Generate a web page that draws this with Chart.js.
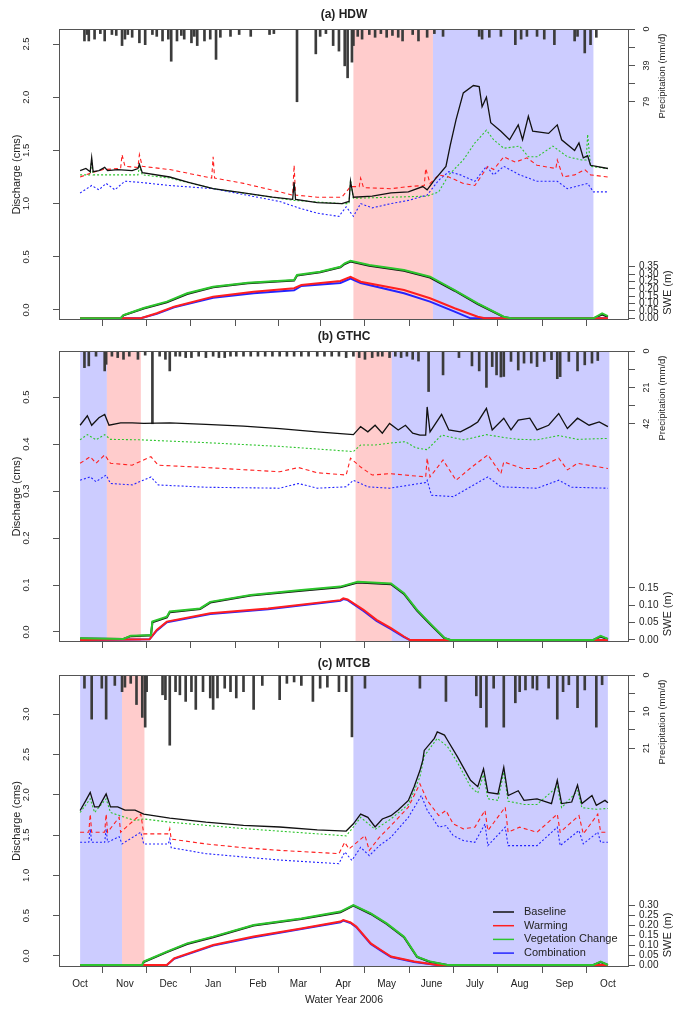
<!DOCTYPE html>
<html>
<head>
<meta charset="utf-8">
<script src="https://cdn.jsdelivr.net/npm/chart.js@4.4.1/dist/chart.umd.min.js"></script>
<style>
body { margin: 0; background: #fff; }
#page { position: relative; width: 676px; height: 1010px; }
canvas { position: absolute; left: 0; }
</style>
</head>
<body>
<div id="page">
<canvas id="hdw" width="676" height="330" style="top:0px"></canvas>
<canvas id="gthc" width="676" height="320" style="top:330px"></canvas>
<canvas id="mtcb" width="676" height="360" style="top:650px"></canvas>
</div>
<script>
// days since 1 Oct 2005
var monthDays = [0, 31, 61, 92, 123, 151, 182, 212, 243, 273, 304, 335, 365];
var monthLabels = ['Oct', 'Nov', 'Dec', 'Jan', 'Feb', 'Mar', 'Apr', 'May', 'June', 'July', 'Aug', 'Sep', 'Oct'];
var seriesNames = ['Baseline', 'Warming', 'Vegetation Change', 'Combination'];

// ---- (a) HDW ----
var hdwBaseline = [[0,1.31],[4,1.33],[7,1.30],[8,1.43],[9,1.30],[13,1.31],[17,1.34],[19,1.31],[26,1.32],[36,1.31],[40,1.33],[41,1.37],[43,1.29],[62,1.25],[75,1.20],[92,1.14],[113,1.10],[133,1.06],[147,1.04],[148,1.20],[149,1.04],[164,1.01],[181,1.00],[186,1.02],[187,1.21],[189,1.06],[202,1.07],[215,1.10],[227,1.11],[237,1.16],[240,1.13],[245,1.22],[253,1.35],[256,1.55],[260,1.79],[265,2.04],[272,2.11],[276,2.10],[278,1.91],[281,2.00],[284,1.76],[291,1.68],[297,1.60],[303,1.74],[306,1.60],[310,1.82],[313,1.68],[324,1.66],[330,1.74],[333,1.60],[342,1.50],[345,1.57],[348,1.43],[351,1.45],[353,1.36],[365,1.33]];
var hdwWarming = [[0,1.25],[8,1.29],[16,1.32],[28,1.33],[29,1.46],[31,1.35],[40,1.34],[41,1.46],[43,1.35],[62,1.32],[91,1.24],[92,1.44],[93,1.24],[113,1.19],[138,1.11],[147,1.08],[148,1.36],[149,1.08],[164,1.06],[181,1.06],[187,1.16],[193,1.16],[194,1.24],[196,1.15],[215,1.14],[227,1.16],[238,1.17],[239,1.33],[242,1.19],[248,1.27],[255,1.25],[265,1.19],[273,1.17],[282,1.35],[286,1.32],[293,1.44],[301,1.39],[309,1.43],[316,1.36],[329,1.33],[330,1.41],[334,1.25],[342,1.27],[349,1.32],[353,1.27],[365,1.25]];
var hdwVegetation = [[0,1.27],[7,1.27],[8,1.41],[9,1.27],[16,1.27],[40,1.27],[41,1.35],[43,1.27],[62,1.24],[92,1.14],[148,1.03],[181,1.00],[186,1.00],[187,1.22],[189,1.05],[215,1.06],[240,1.07],[248,1.11],[255,1.27],[265,1.41],[273,1.57],[281,1.69],[286,1.60],[293,1.52],[304,1.54],[310,1.44],[316,1.44],[327,1.54],[337,1.44],[347,1.41],[350,1.41],[351,1.65],[353,1.35],[365,1.33]];
var hdwCombination = [[0,1.10],[8,1.17],[13,1.13],[18,1.19],[24,1.13],[31,1.21],[41,1.20],[62,1.17],[92,1.14],[138,1.02],[151,0.96],[164,0.91],[179,0.88],[184,0.97],[189,0.88],[194,1.00],[202,0.96],[215,1.00],[227,1.03],[240,1.08],[248,1.22],[255,1.30],[263,1.27],[273,1.21],[281,1.35],[286,1.27],[293,1.35],[304,1.27],[316,1.21],[330,1.21],[337,1.14],[351,1.19],[355,1.11],[365,1.11]];
var hdwSweBaseline = [[0,0],[28,0],[30,0.02],[44,0.066],[60,0.108],[74,0.165],[92,0.21],[116,0.238],[148,0.256],[150,0.29],[166,0.312],[180,0.346],[183,0.368],[187,0.385],[200,0.357],[224,0.323],[242,0.276],[259,0.187],[275,0.097],[293,0.008],[298,0],[355,0],[361,0.025],[365,0.01]];
var hdwSweWarming = [[0,0],[42,0],[53,0.034],[65,0.079],[92,0.147],[120,0.18],[148,0.204],[153,0.226],[180,0.253],[187,0.282],[194,0.248],[224,0.192],[242,0.136],[259,0.068],[275,0.011],[280,0],[365,0]];
var hdwSweVegetation = [[0,0],[28,0],[30,0.022],[44,0.07],[60,0.113],[74,0.17],[92,0.214],[116,0.242],[148,0.26],[150,0.294],[166,0.316],[180,0.35],[183,0.373],[187,0.39],[200,0.362],[224,0.328],[242,0.282],[259,0.192],[275,0.102],[293,0.011],[298,0],[355,0],[361,0.034],[365,0.015]];
var hdwSweCombination = [[0,0],[42,0],[53,0.03],[65,0.075],[92,0.14],[120,0.17],[148,0.19],[153,0.22],[180,0.24],[187,0.27],[194,0.24],[224,0.17],[242,0.113],[259,0.045],[270,0],[365,0]];
var hdwRainDays = [3,5,6,10,14,17,22,25,29,31,33,36,41,45,50,53,57,61,63,67,70,72,77,79,81,86,90,94,97,104,110,118,131,134,150,163,166,170,175,179,183,185,188,189,192,195,200,204,208,212,216,220,223,230,234,240,245,251,276,278,283,291,301,305,309,316,321,328,342,344,349,353,357];
var hdwRainMm = [13,6,13,11,5,13,6,7,18,11,6,9,15,17,6,8,13,11,35,13,7,11,15,8,18,13,11,33,9,8,6,8,6,5,79,27,8,5,18,24,40,53,36,18,8,11,6,9,5,9,7,9,13,6,13,9,5,8,8,11,9,8,17,11,8,8,11,17,13,8,26,17,9];
var hdwTicks = [0, 0.5, 1, 1.5, 2, 2.5];
var hdwRainTicks = [0, 19.75, 39.5, 59.25, 79];
var hdwRainLabels = ['0', '', '39', '', '79'];
var hdwSweTicks = [0, 0.05, 0.10, 0.15, 0.20, 0.25, 0.30, 0.35];
var hdwPeriods = [[189, 244, 'Warming'], [244, 355, 'Combination']];

// ---- (b) GTHC ----
var gthcBaseline = [[0,0.44],[5,0.46],[8,0.44],[13,0.456],[17,0.463],[20,0.44],[28,0.445],[36,0.445],[44,0.444],[62,0.445],[87,0.442],[113,0.438],[138,0.433],[164,0.426],[189,0.42],[194,0.437],[199,0.426],[204,0.44],[209,0.423],[214,0.444],[220,0.43],[225,0.44],[230,0.423],[235,0.419],[239,0.419],[240,0.479],[242,0.426],[250,0.463],[255,0.43],[263,0.426],[270,0.437],[275,0.447],[281,0.476],[285,0.43],[293,0.455],[298,0.43],[303,0.451],[311,0.455],[316,0.43],[324,0.44],[331,0.465],[337,0.433],[344,0.455],[352,0.44],[359,0.447],[365,0.437]];
var gthcWarming = [[0,0.359],[7,0.373],[11,0.359],[17,0.377],[21,0.359],[36,0.355],[49,0.373],[54,0.355],[87,0.35],[138,0.341],[151,0.35],[164,0.339],[184,0.334],[187,0.37],[194,0.351],[202,0.334],[214,0.337],[239,0.33],[240,0.37],[242,0.33],[251,0.366],[260,0.323],[270,0.349],[282,0.377],[291,0.337],[293,0.362],[306,0.348],[316,0.348],[331,0.37],[337,0.345],[344,0.359],[365,0.348]];
var gthcVegetation = [[0,0.409],[5,0.42],[11,0.409],[17,0.42],[21,0.41],[41,0.409],[87,0.403],[138,0.395],[189,0.384],[194,0.398],[204,0.398],[214,0.402],[225,0.405],[232,0.392],[240,0.388],[250,0.419],[265,0.409],[270,0.412],[281,0.42],[293,0.414],[303,0.41],[316,0.409],[331,0.418],[344,0.41],[365,0.412]];
var gthcCombination = [[0,0.323],[7,0.33],[11,0.32],[18,0.334],[21,0.316],[36,0.313],[49,0.33],[54,0.313],[87,0.308],[138,0.306],[151,0.316],[164,0.306],[184,0.309],[189,0.323],[199,0.309],[214,0.306],[239,0.318],[240,0.323],[243,0.291],[258,0.288],[270,0.309],[282,0.33],[291,0.309],[316,0.306],[331,0.323],[340,0.308],[365,0.306]];
var gthcSweBaseline = [[0,0.004],[30,0.003],[35,0.011],[47,0.013],[49,0.013],[50,0.051],[60,0.065],[62,0.08],[83,0.089],[90,0.108],[118,0.128],[153,0.142],[180,0.152],[192,0.166],[215,0.161],[224,0.133],[233,0.085],[242,0.046],[252,0.005],[256,0],[355,0],[360,0.01],[365,0.002]];
var gthcSweWarming = [[0,0],[48,0.002],[53,0.029],[60,0.053],[90,0.077],[130,0.091],[180,0.115],[182,0.12],[185,0.117],[196,0.087],[205,0.058],[215,0.034],[224,0.01],[228,0],[365,0]];
var gthcSweVegetation = [[0,0.005],[30,0.003],[35,0.012],[47,0.014],[49,0.014],[50,0.053],[60,0.067],[62,0.082],[83,0.091],[90,0.11],[118,0.13],[153,0.144],[180,0.154],[192,0.168],[215,0.163],[224,0.135],[233,0.087],[242,0.048],[252,0.006],[256,0],[355,0],[360,0.012],[365,0.003]];
var gthcSweCombination = [[0,0],[48,0.002],[53,0.027],[60,0.051],[90,0.075],[130,0.089],[180,0.113],[182,0.118],[185,0.115],[196,0.084],[205,0.055],[215,0.031],[224,0.008],[228,0],[365,0]];
var gthcRainDays = [3,6,11,17,18,22,26,30,34,40,45,50,55,59,62,66,69,73,77,82,87,92,96,100,104,108,113,118,123,128,133,138,143,148,153,158,164,169,174,179,184,189,193,197,202,206,209,214,218,222,226,230,234,241,251,262,271,276,281,285,288,291,293,298,303,307,312,316,321,326,330,332,338,344,349,354,358];
var gthcRainMm = [9.6,8.6,3,11.5,7.7,3,3.8,4.8,3,4.8,2.4,42,3,4.8,11.5,3,3,3.8,3.8,3,3.8,3,3.8,3.8,3,3,3,3,3,3,3,3,3,3,3,3,3,3,3,3,3.8,3,3.8,4.8,3.8,3,3,3.8,3,3.8,3,4.8,5.8,23.4,13.8,3.8,8.6,11.5,21,9,13.8,15,14.7,6,11,7,7,9,6,5,16,14.8,6,11.5,8,7,5.5];
var gthcTicks = [0, 0.1, 0.2, 0.3, 0.4, 0.5];
var gthcRainTicks = [0, 10.5, 21, 31.5, 42];
var gthcRainLabels = ['0', '', '21', '', '42'];
var gthcSweTicks = [0, 0.05, 0.10, 0.15];
var gthcPeriods = [[0, 18.5, 'Combination'], [18.5, 42, 'Warming'], [190.5, 215.5, 'Warming'], [215.5, 366, 'Combination']];

// ---- (c) MTCB ----
var mtcbBaseline = [[0,1.805],[4,1.93],[7,2.03],[10,1.85],[13,1.85],[18,2.01],[21,1.85],[26,1.85],[31,1.81],[38,1.81],[44,1.76],[62,1.71],[87,1.66],[113,1.62],[138,1.60],[164,1.565],[184,1.55],[189,1.64],[194,1.76],[199,1.72],[204,1.60],[209,1.70],[215,1.74],[220,1.81],[227,1.93],[231,2.10],[235,2.30],[237,2.43],[238,2.55],[245,2.70],[247,2.78],[252,2.74],[254,2.68],[261,2.47],[270,2.18],[275,2.10],[279,2.32],[282,2.03],[289,2.01],[293,2.34],[296,1.99],[303,2.05],[307,1.93],[316,1.95],[326,1.89],[330,2.18],[333,1.89],[340,1.91],[344,2.12],[347,1.89],[354,1.99],[357,1.87],[363,1.93],[365,1.90]];
var mtcbWarming = [[0,1.535],[6,1.535],[7,1.76],[8,1.535],[17,1.535],[18,1.76],[19,1.535],[27,1.72],[28,1.535],[42,1.76],[44,1.515],[61,1.515],[62,1.58],[63,1.45],[87,1.39],[113,1.343],[138,1.31],[179,1.27],[183,1.41],[186,1.327],[197,1.494],[200,1.31],[207,1.473],[215,1.618],[227,1.846],[235,2.137],[240,1.93],[248,1.743],[253,1.805],[258,1.639],[265,1.577],[273,1.598],[280,1.805],[282,1.556],[294,1.846],[296,1.535],[304,1.598],[316,1.535],[330,1.76],[332,1.535],[345,1.743],[348,1.515],[358,1.76],[360,1.535],[365,1.535]];
var mtcbVegetation = [[0,1.78],[7,1.95],[10,1.78],[18,1.95],[21,1.78],[31,1.72],[38,1.68],[44,1.70],[62,1.66],[113,1.58],[184,1.49],[189,1.60],[194,1.72],[204,1.57],[215,1.70],[227,1.88],[235,2.22],[238,2.48],[247,2.70],[254,2.60],[261,2.40],[270,2.10],[275,2.02],[279,2.25],[282,1.95],[289,1.93],[293,2.28],[296,1.92],[307,1.88],[316,1.88],[330,2.10],[333,1.84],[344,2.05],[347,1.84],[357,1.82],[365,1.83]];
var mtcbCombination = [[0,1.41],[6,1.41],[7,1.577],[8,1.41],[17,1.41],[18,1.577],[19,1.41],[27,1.48],[29,1.39],[42,1.535],[44,1.39],[61,1.39],[62,1.452],[63,1.343],[87,1.27],[113,1.228],[138,1.19],[179,1.145],[183,1.29],[188,1.186],[194,1.348],[200,1.245],[207,1.369],[215,1.473],[227,1.72],[236,1.99],[240,1.81],[248,1.598],[253,1.618],[258,1.494],[265,1.432],[273,1.41],[280,1.639],[282,1.369],[294,1.598],[296,1.369],[316,1.369],[330,1.598],[332,1.369],[345,1.556],[348,1.39],[358,1.535],[360,1.41],[365,1.41]];
var mtcbSweBaseline = [[0,0],[43,0],[44,0.015],[60,0.064],[74,0.105],[92,0.139],[120,0.197],[153,0.23],[180,0.264],[189,0.297],[201,0.255],[212,0.205],[224,0.139],[233,0.04],[242,0.015],[254,0],[355,0],[360,0.015],[365,0]];
var mtcbSweWarming = [[0,0],[60,0],[65,0.033],[92,0.1],[120,0.142],[153,0.183],[180,0.217],[182,0.225],[187,0.213],[191,0.192],[201,0.108],[208,0.075],[215,0.042],[231,0.017],[247,0],[365,0]];
var mtcbSweVegetation = [[0,0],[43,0],[44,0.017],[60,0.067],[74,0.108],[92,0.142],[120,0.2],[153,0.233],[180,0.267],[189,0.30],[201,0.258],[212,0.208],[224,0.142],[233,0.042],[242,0.017],[254,0],[355,0],[360,0.017],[365,0]];
var mtcbSweCombination = [[0,0],[60,0],[65,0.031],[92,0.097],[120,0.139],[153,0.18],[180,0.214],[182,0.222],[187,0.21],[191,0.189],[201,0.105],[208,0.072],[215,0.04],[231,0.015],[247,0],[365,0]];
var mtcbRainDays = [3,8,15,18,24,29,31,35,39,43,45,46,57,59,62,66,69,73,77,80,85,90,92,95,100,104,108,113,120,126,138,143,148,153,161,166,171,179,184,188,197,235,253,274,277,281,286,293,301,304,308,313,316,324,330,334,338,344,349,357,361];
var mtcbRainMm = [3.8,12.7,3.8,12.7,3,4.8,3.5,2.4,8.5,12.2,15,4.8,5.7,7.1,20.2,4.8,5.7,7.6,4.8,9.9,4.8,6.6,9.9,6.6,3.8,4.8,6.6,4.8,9.9,3,7.1,2.4,2,3,7.6,3.8,3.5,4.8,4.8,17.8,3.8,3.8,7.6,6,9.4,15,3.8,15,8,4.8,4.3,3.8,4.3,3.8,12.7,4.8,2.8,9.4,4.3,15,2.8];
var mtcbTicks = [0, 0.5, 1, 1.5, 2, 2.5, 3];
var mtcbRainTicks = [0, 5.25, 10.5, 15.75, 21];
var mtcbRainLabels = ['0', '', '10', '', '21'];
var mtcbSweTicks = [0, 0.05, 0.10, 0.15, 0.20, 0.25, 0.30];
var mtcbPeriods = [[0, 29, 'Combination'], [29, 44.5, 'Warming'], [189, 365, 'Combination']];

var FF = '"Liberation Sans", Arial, Helvetica, sans-serif';
var lineColors = ['#111111', '#ff1f1f', '#2ec52e', '#2424ff'];
var shadeColors = { Warming: 'rgba(255,0,0,0.2)', Combination: 'rgba(0,0,255,0.2)' };

function pts(list) {
    return list.map(function (p) { return { x: p[0], y: p[1] }; });
}

function label(ctx, text, x, y, deg, size, align, weight) {
    ctx.save();
    ctx.translate(x, y);
    ctx.rotate(deg * Math.PI / 180);
    ctx.font = (weight || 'normal') + ' ' + size + 'px ' + FF;
    ctx.textAlign = align;
    ctx.textBaseline = 'middle';
    ctx.fillText(text, 0, 0);
    ctx.restore();
}

var rStyle = {
    id: 'rStyle',
    beforeDatasetsDraw: function (chart, args, o) {
        var ctx = chart.ctx, a = chart.chartArea, x = chart.scales.x;
        ctx.save();
        ctx.beginPath();
        ctx.rect(a.left, a.top, a.right - a.left, a.bottom - a.top);
        ctx.clip();
        o.periods.forEach(function (p) {
            var x0 = x.getPixelForValue(p[0]), x1 = x.getPixelForValue(p[1]);
            ctx.fillStyle = shadeColors[p[2]];
            ctx.fillRect(x0, a.top, x1 - x0, a.bottom - a.top);
        });
        ctx.restore();
    },
    afterDraw: function (chart, args, o) {
        var ctx = chart.ctx, a = chart.chartArea, s = chart.scales;
        ctx.save();
        ctx.strokeStyle = '#555';
        ctx.lineWidth = 1;
        ctx.strokeRect(a.left + 0.5, a.top + 0.5, a.right - a.left - 1, a.bottom - a.top - 1);
        ctx.fillStyle = '#222';
        o.yTicks.forEach(function (v) {
            label(ctx, v.toFixed(1), 26, s.y.getPixelForValue(v), -90, 9.5, 'center');
        });
        o.rainTicks.forEach(function (v, i) {
            if (o.rainLabels[i]) label(ctx, o.rainLabels[i], 647, s.pr.getPixelForValue(v), -90, 9, 'center');
        });
        o.sweTicks.forEach(function (v) {
            label(ctx, v.toFixed(2), a.right + 10, s.swe.getPixelForValue(v), 0, 10, 'left');
        });
        label(ctx, o.title, (a.left + a.right) / 2, a.top + o.titleDy, 0, 12, 'center', 'bold');
        label(ctx, 'Discharge (cms)', 17, (a.top + a.bottom) / 2, -90, 11, 'center');
        label(ctx, 'Precipitation (mm/d)', 662, a.top + 47, -90, 9.5, 'center');
        var sw0 = s.swe.getPixelForValue(o.sweTicks[0]);
        var sw1 = s.swe.getPixelForValue(o.sweTicks[o.sweTicks.length - 1]);
        label(ctx, 'SWE (m)', 668, (sw0 + sw1) / 2, -90, 11, 'center');
        if (o.xTitle) {
            label(ctx, o.xTitle, (a.left + a.right) / 2, a.bottom + 33, 0, 10.5, 'center');
        }
        if (o.legend) {
            var lx = a.right - 136, ly = a.bottom - 55;
            seriesNames.forEach(function (n, i) {
                var yy = ly + i * 13.7;
                ctx.strokeStyle = lineColors[i];
                ctx.lineWidth = 1.5;
                ctx.beginPath();
                ctx.moveTo(lx, yy);
                ctx.lineTo(lx + 21, yy);
                ctx.stroke();
                ctx.fillStyle = '#222';
                label(ctx, n, lx + 31, yy, 0, 11, 'left');
            });
        }
        ctx.restore();
    }
};

function fixedTicks(values) {
    return function (axis) {
        axis.ticks = values.map(function (v) { return { value: v }; });
    };
}

function drawPanel(id, p) {
    var dashes = [[], [4, 3], [2, 2], [2, 2]];
    var qOrder = [2, 3, 5, 4];
    var sOrder = [9, 7, 6, 8];
    var datasets = [{
        type: 'bar',
        data: p.rainDays.map(function (d, i) { return { x: d, y: p.rainMm[i] }; }),
        yAxisID: 'pr',
        backgroundColor: '#3b3b3b',
        barThickness: 2,
        order: 10
    }];
    p.swe.forEach(function (s, i) {
        datasets.push({
            type: 'line', label: seriesNames[i], data: pts(s), yAxisID: 'swe',
            borderColor: lineColors[i], borderWidth: 2, pointRadius: 0, tension: 0, order: sOrder[i]
        });
    });
    p.q.forEach(function (s, i) {
        datasets.push({
            type: 'line', label: seriesNames[i], data: pts(s), yAxisID: 'y',
            borderColor: lineColors[i], borderWidth: i === 0 ? 1.3 : 1.1, borderDash: dashes[i],
            pointRadius: 0, tension: 0, order: qOrder[i]
        });
    });
    var tickGrid = { drawOnChartArea: false, drawTicks: true, tickLength: 6, color: '#555' };
    new Chart(document.getElementById(id), {
        type: 'line',
        data: { datasets: datasets },
        plugins: [rStyle],
        options: {
            responsive: false,
            animation: false,
            events: [],
            layout: { padding: { top: p.top, left: 0, right: 0, bottom: 0 } },
            plugins: {
                legend: { display: false },
                tooltip: { enabled: false },
                rStyle: {
                    title: p.title, titleDy: p.titleDy, periods: p.periods,
                    yTicks: p.yTicks, rainTicks: p.rainTicks, rainLabels: p.rainLabels,
                    sweTicks: p.sweTicks, xTitle: p.xTitle, legend: p.legend
                }
            },
            scales: {
                x: {
                    type: 'linear', min: -14.6, max: 379.6, offset: false,
                    afterBuildTicks: fixedTicks(monthDays),
                    afterFit: function (ax) { ax.height = p.xh; },
                    grid: tickGrid, border: { display: false },
                    ticks: {
                        display: !!p.xTitle, autoSkip: false, maxRotation: 0, minRotation: 0,
                        padding: 5, color: '#222', font: { family: FF, size: 10 },
                        callback: function (v, i) { return monthLabels[i]; }
                    }
                },
                y: {
                    type: 'linear', position: 'left', min: p.yMin, max: p.yMax,
                    afterBuildTicks: fixedTicks(p.yTicks),
                    afterFit: function (ax) { ax.width = 59; },
                    grid: tickGrid, border: { display: false }, ticks: { display: false }
                },
                swe: {
                    type: 'linear', position: 'right', weight: 0, min: p.sweMin, max: p.sweMax,
                    afterBuildTicks: fixedTicks(p.sweTicks),
                    afterFit: function (ax) { ax.width = 0; },
                    grid: tickGrid, border: { display: false }, ticks: { display: false }
                },
                pr: {
                    type: 'linear', position: 'right', weight: 1, reverse: true, min: 0, max: p.rainMax,
                    afterBuildTicks: fixedTicks(p.rainTicks),
                    afterFit: function (ax) { ax.width = 47; },
                    grid: tickGrid, border: { display: false }, ticks: { display: false }
                }
            }
        }
    });
}

drawPanel('hdw', {
    title: '(a) HDW', titleDy: -14, top: 29, xh: 10,
    q: [hdwBaseline, hdwWarming, hdwVegetation, hdwCombination],
    swe: [hdwSweBaseline, hdwSweWarming, hdwSweVegetation, hdwSweCombination],
    rainDays: hdwRainDays, rainMm: hdwRainMm, rainMax: 316,
    rainTicks: hdwRainTicks, rainLabels: hdwRainLabels,
    yMin: -0.094, yMax: 2.641, yTicks: hdwTicks,
    sweMin: -0.0115, sweMax: 1.963, sweTicks: hdwSweTicks,
    periods: hdwPeriods
});

drawPanel('gthc', {
    title: '(b) GTHC', titleDy: -14, top: 21, xh: 8,
    q: [gthcBaseline, gthcWarming, gthcVegetation, gthcCombination],
    swe: [gthcSweBaseline, gthcSweWarming, gthcSweVegetation, gthcSweCombination],
    rainDays: gthcRainDays, rainMm: gthcRainMm, rainMax: 168,
    rainTicks: gthcRainTicks, rainLabels: gthcRainLabels,
    yMin: -0.0213, yMax: 0.598, yTicks: gthcTicks,
    sweMin: -0.0058, sweMax: 0.8336, sweTicks: gthcSweTicks,
    periods: gthcPeriods
});

drawPanel('mtcb', {
    title: '(c) MTCB', titleDy: -11, top: 25, xh: 43,
    q: [mtcbBaseline, mtcbWarming, mtcbVegetation, mtcbCombination],
    swe: [mtcbSweBaseline, mtcbSweWarming, mtcbSweVegetation, mtcbSweCombination],
    rainDays: mtcbRainDays, rainMm: mtcbRainMm, rainMax: 84,
    rainTicks: mtcbRainTicks, rainLabels: mtcbRainLabels,
    yMin: -0.137, yMax: 3.486, yTicks: mtcbTicks,
    sweMin: -0.01, sweMax: 1.45, sweTicks: mtcbSweTicks,
    periods: mtcbPeriods,
    xTitle: 'Water Year 2006', legend: true
});
</script>
</body>
</html>
